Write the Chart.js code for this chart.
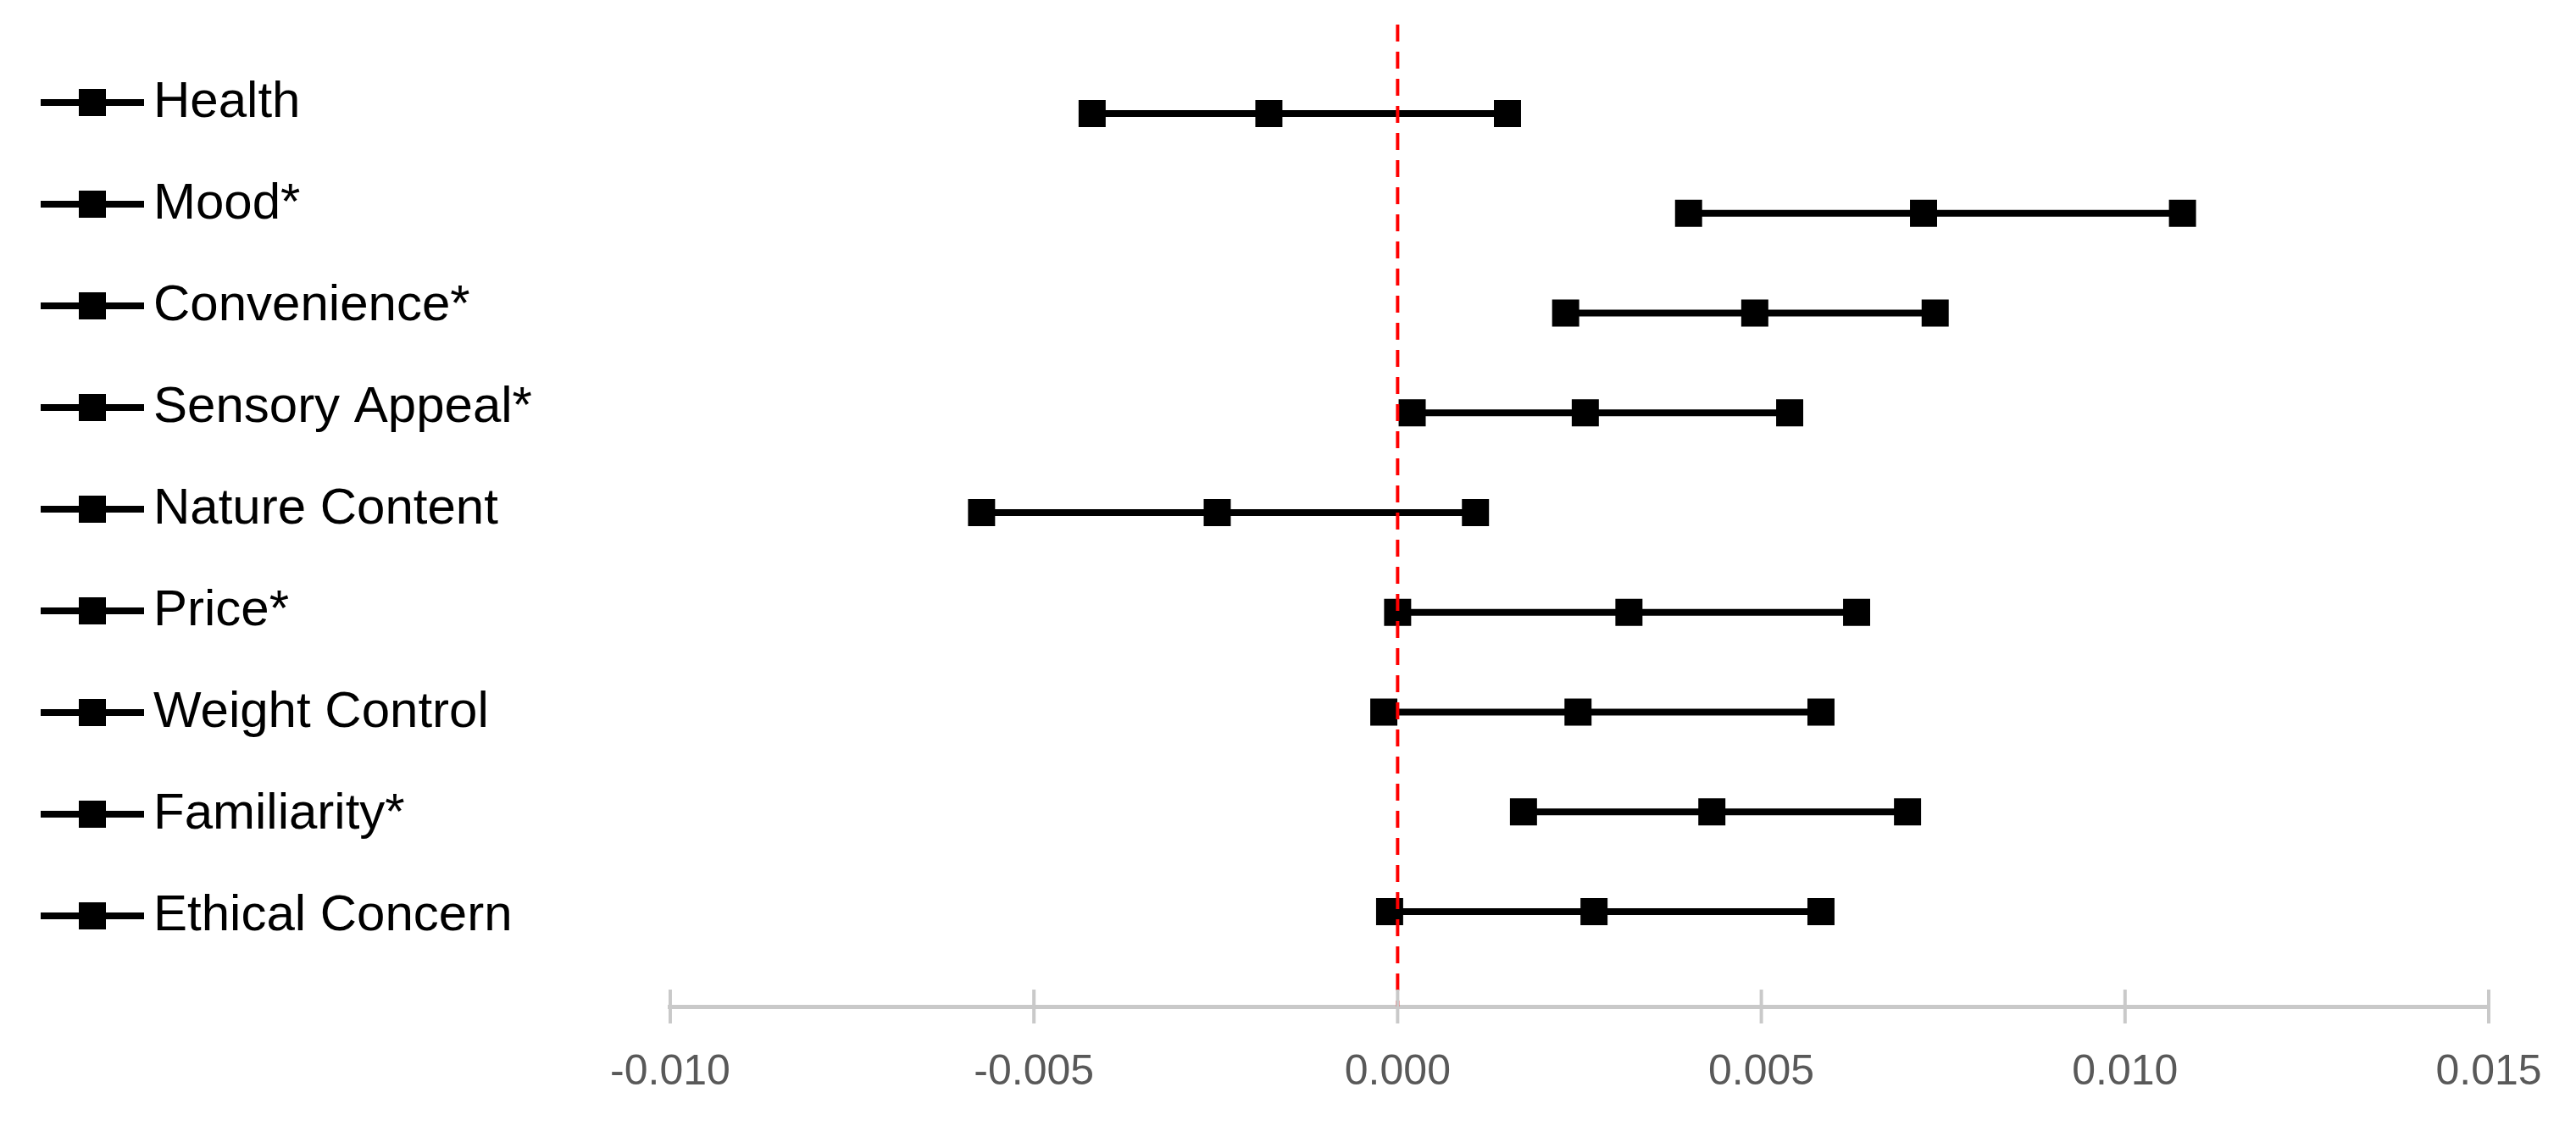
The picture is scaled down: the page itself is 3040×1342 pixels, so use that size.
<!DOCTYPE html>
<html>
<head>
<meta charset="utf-8">
<script src="https://cdn.jsdelivr.net/npm/chart.js@4.4.1/dist/chart.umd.min.js"></script>
<style>
  html, body { margin: 0; padding: 0; background: #fff; }
  #wrap { width: 3040px; height: 1342px; position: relative; }
</style>
</head>
<body>
<div id="wrap"><canvas id="chart"></canvas></div>
<script>
// данные
const categories = ["Health", "Mood*", "Convenience*", "Sensory Appeal*", "Nature Content",
  "Price*", "Weight Control", "Familiarity*", "Ethical Concern"];
const lowValues = [-0.0042, 0.0040, 0.00231, 0.0002, -0.00572, 0.0000, -0.00019, 0.00173, -0.00011];
const midValues = [-0.00177, 0.00723, 0.00491, 0.00258, -0.00248, 0.00318, 0.00248, 0.00432, 0.0027];
const highValues = [0.00151, 0.01079, 0.00739, 0.00539, 0.00107, 0.00631, 0.00582, 0.00701, 0.00582];
const xTicks = [-0.010, -0.005, 0.000, 0.005, 0.010, 0.015];

const FONT = "'Liberation Sans', Arial, sans-serif";
const legendFontSize = 60;
const legendPadding = 60;

// значок легенды: линия + квадрат
const symbol = document.createElement("canvas");
symbol.width = 122;
symbol.height = 36;
const sctx = symbol.getContext("2d");
sctx.fillStyle = "#000";
sctx.fillRect(0, 14, 122, 8);
sctx.fillRect(45, 2, 32, 32);

// вертикальная красная линия на нуле
const zeroLine = {
  id: "zeroLine",
  afterDatasetsDraw(chart) {
    const { ctx, chartArea, scales } = chart;
    const x = scales.x.getPixelForValue(0);
    ctx.save();
    ctx.strokeStyle = "#ff0000";
    ctx.lineWidth = 4;
    ctx.setLineDash([20, 12]);
    ctx.beginPath();
    ctx.moveTo(x, chartArea.top - 2);
    ctx.lineTo(x, chartArea.bottom);
    ctx.stroke();
    ctx.restore();
  },
};

// засечки через ось
const crossTicks = {
  id: "crossTicks",
  afterDraw(chart) {
    const { ctx, chartArea, scales } = chart;
    ctx.save();
    ctx.strokeStyle = "#c9c9c9";
    ctx.lineWidth = 4;
    scales.x.ticks.forEach((t) => {
      const x = scales.x.getPixelForValue(t.value);
      ctx.beginPath();
      ctx.moveTo(x, chartArea.bottom - 20);
      ctx.lineTo(x, chartArea.bottom + 20);
      ctx.stroke();
    });
    ctx.restore();
  },
};

const datasets = categories.map((name, i) => ({
  label: name,
  data: [
    { x: lowValues[i], y: i },
    { x: midValues[i], y: i },
    { x: highValues[i], y: i },
  ],
  showLine: true,
  borderColor: "#000",
  backgroundColor: "#000",
  borderWidth: 8,
  pointStyle: "rect",
  pointRadius: 22.6,
  pointBorderWidth: 0,
  pointHoverRadius: 22.6,
}));

new Chart(document.getElementById("chart"), {
  type: "scatter",
  data: { datasets },
  options: {
    responsive: true,
    maintainAspectRatio: false,
    animation: false,
    events: [],
    layout: { padding: { left: 7, top: 31, right: 103, bottom: 0 } },
    scales: {
      x: {
        type: "linear",
        min: -0.01,
        max: 0.015,
        afterBuildTicks(scale) {
          scale.ticks = xTicks.map((v) => ({ value: v }));
        },
        afterFit(scale) {
          scale.height = 154;
          scale.paddingLeft = 0;
          scale.paddingRight = 0;
        },
        grid: { display: true, drawOnChartArea: false, drawTicks: false },
        border: { display: true, color: "#c9c9c9", width: 5 },
        ticks: {
          padding: 48,
          color: "#595959",
          font: { family: FONT, size: 50 },
          callback: (v) => Number(v).toFixed(3),
        },
      },
      y: {
        type: "linear",
        reverse: true,
        min: -0.875,
        max: 8.951,
        afterFit(scale) {
          scale.width = 153;
        },
        grid: { display: false },
        border: { display: false },
        ticks: { display: false },
      },
    },
    plugins: {
      tooltip: { enabled: false },
      legend: {
        position: "left",
        align: "start",
        labels: {
          usePointStyle: true,
          pointStyle: symbol,
          pointStyleWidth: 84,
          padding: legendPadding,
          color: "#000",
          font: { family: FONT, size: legendFontSize },
        },
      },
    },
  },
  plugins: [zeroLine, crossTicks],
});
</script>
</body>
</html>
